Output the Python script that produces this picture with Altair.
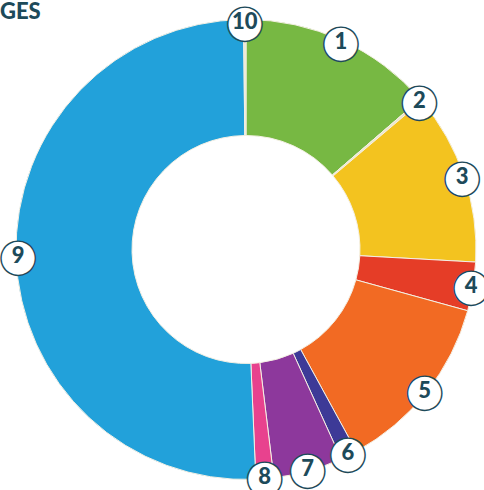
import altair as alt
import pandas as pd

labels = ["1", "2", "3", "4", "5", "6", "7", "8", "9", "10"]
values = [13.67, 0.17, 12.03, 3.42, 12.75, 1.17, 4.86, 1.25, 50.51, 0.17]
colors = ["#77b843", "#ece6cc", "#f3c31f", "#e53d27", "#f26a23",
          "#3d3a97", "#8d389c", "#e8428e", "#22a1da", "#ece6cc"]
title_text = ["GES"]

df = pd.DataFrame({"label": labels, "value": values, "idx": list(range(len(labels)))})

base = alt.Chart(df).encode(
    theta=alt.Theta("value:Q", stack=True),
    order=alt.Order("idx:Q"),
)

arcs = base.mark_arc(outerRadius=230, innerRadius=114, stroke="#f4f0e4", strokeWidth=1).encode(
    color=alt.Color("label:N", scale=alt.Scale(domain=labels, range=colors), legend=None)
)

dots = base.mark_text(radius=228, text="●", font="DejaVu Sans", fontSize=45,
                      color="white", stroke="#1d4a5a", strokeWidth=1.4,
                      baseline="middle", align="center")

nums = base.mark_text(radius=228, font="Lato", fontWeight=900, fontSize=22,
                      color="#1d4a5a", baseline="middle", align="center").encode(
    text="label:N"
)

title = alt.Chart(pd.DataFrame({"t": title_text})).mark_text(
    font="Lato", fontWeight=900, fontSize=22, color="#1d4a5a",
    align="left", baseline="middle"
).encode(x=alt.value(-8), y=alt.value(3), text="t:N")

chart = alt.layer(arcs, dots, nums, title).properties(
    width=476, height=481,
    padding={"left": 8, "top": 9, "right": 0, "bottom": 0},
    autosize="none",
    background="white",
).configure_view(stroke=None)

chart.save("out.html", embed_options={"renderer": "svg", "actions": False})
